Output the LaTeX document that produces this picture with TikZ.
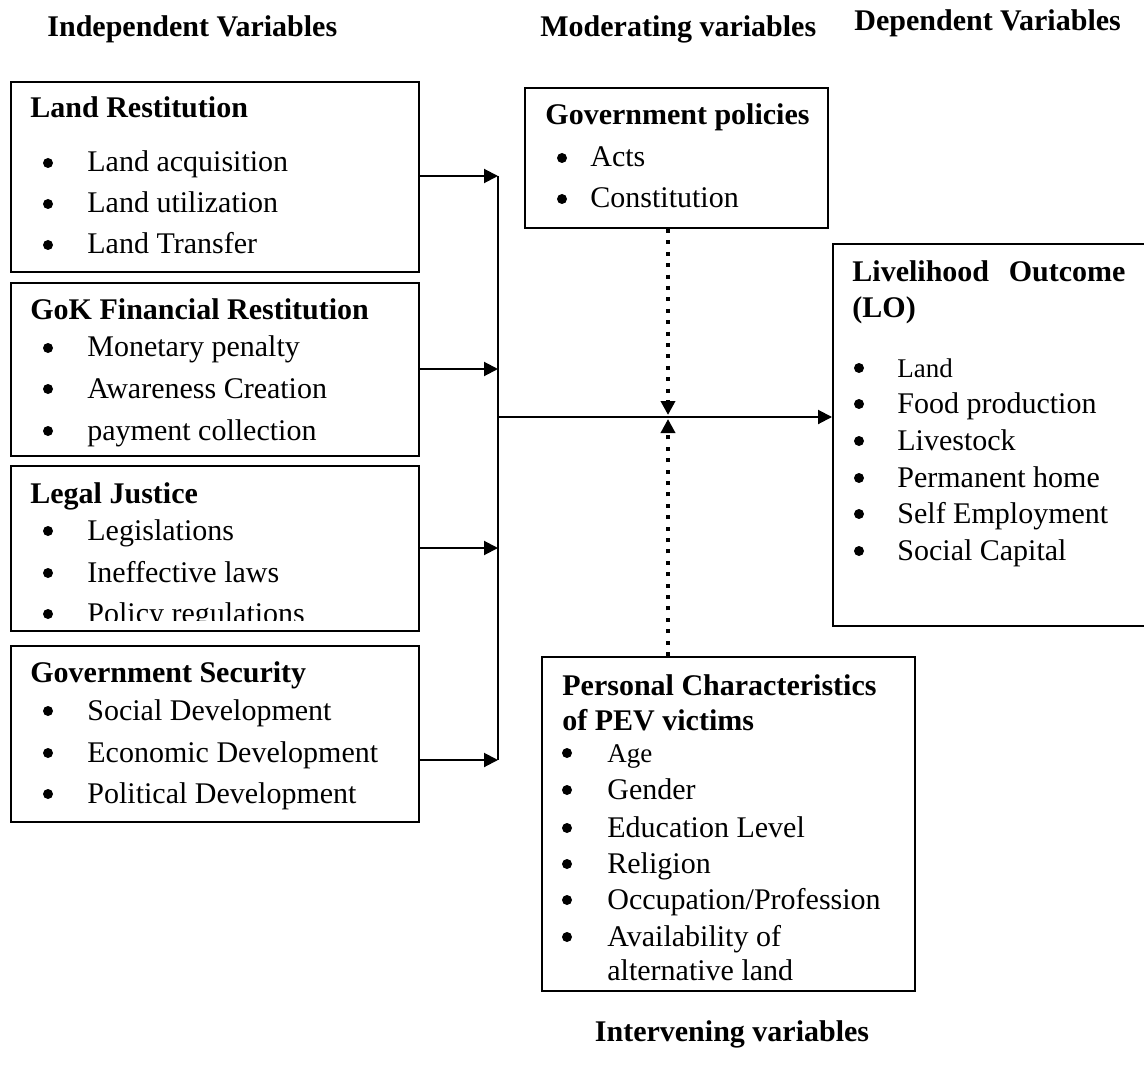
\documentclass[tikz,border=0pt]{standalone}
\usepackage{fontspec}
\setmainfont{Liberation Serif}
\usetikzlibrary{arrows.meta,fit}
\begin{document}
\begin{tikzpicture}[x=0.5pt,y=-0.5pt,
  box/.style={draw,line width=1pt,inner sep=0pt},
  txt/.style={anchor=base west,inner sep=0pt,font=\fontsize{15}{18}\selectfont},
  stxt/.style={anchor=base west,inner sep=0pt,font=\fontsize{13.5}{16}\selectfont},
  hd/.style={anchor=base west,inner sep=0pt,font=\fontsize{15}{18}\selectfont\bfseries},
  bul/.style={circle,fill,inner sep=0pt,minimum size=5pt,yshift=4.5pt},
  arr/.style={line width=1pt,-{Triangle[length=7pt,width=7pt]}},
  ln/.style={line width=1pt},
  dots/.style={line width=2pt,dash pattern=on 2pt off 3.7pt,-{Triangle[length=7pt,width=7pt]}}]
\useasboundingbox (0,0) rectangle (1144,1080);

% headings
\node[hd] (hind) at (47,37) {Independent Variables};
\node[hd] (hmod) at (540,37) {Moderating variables};
\node[hd] (hdep) at (854,31) {Dependent Variables};
\node[hd,anchor=base] (hint) at (732,1041) {Intervening variables};

% Box 1 Land Restitution
\node[box,fit={(11,82) (419,272)}] (lr) {};
\node[hd] (lrh) at (30,118) {Land Restitution};
\node[bul] (lrb1) at (48,172) {};
\node[txt] (lrt1) at (87,172) {Land acquisition};
\node[bul] (lrb2) at (48,213) {};
\node[txt] (lrt2) at (87,213) {Land utilization};
\node[bul] (lrb3) at (48,254) {};
\node[txt] (lrt3) at (87,254) {Land Transfer};

% Box 2 GoK
\node[box,fit={(11,283) (419,456)}] (gk) {};
\node[hd] (gkh) at (30,320) {GoK Financial Restitution};
\node[bul] (gkb1) at (48,357) {};
\node[txt] (gkt1) at (87,357) {Monetary penalty};
\node[bul] (gkb2) at (48,398) {};
\node[txt] (gkt2) at (87,398) {Awareness Creation};
\node[bul] (gkb3) at (48,440) {};
\node[txt] (gkt3) at (87,440) {payment collection};

% Box 3 Legal Justice
\begin{scope}
\clip (11,466) rectangle (419,620);
\node[hd] (ljh) at (30,503) {Legal Justice};
\node[bul] (ljb1) at (48,540) {};
\node[txt] (ljt1) at (87,540) {Legislations};
\node[bul] (ljb2) at (48,582) {};
\node[txt] (ljt2) at (87,582) {Ineffective laws};
\node[bul] (ljb3) at (48,623) {};
\node[txt] (ljt3) at (87,623) {Policy regulations};
\end{scope}
\node[box,fit={(11,466) (419,631)}] (lj) {};

% Box 4 Government Security
\node[box,fit={(11,646) (419,822)}] (gs) {};
\node[hd] (gsh) at (30,682) {Government Security};
\node[bul] (gsb1) at (48,720) {};
\node[txt] (gst1) at (87,720) {Social Development};
\node[bul] (gsb2) at (48,762) {};
\node[txt] (gst2) at (87,762) {Economic Development};
\node[bul] (gsb3) at (48,803) {};
\node[txt] (gst3) at (87,803) {Political Development};

% Government policies
\node[box,fit={(525,88) (828,228)}] (gp) {};
\node[hd] (gph) at (545,125) {Government policies};
\node[bul] (gpb1) at (562,167) {};
\node[txt] (gpt1) at (590,167) {Acts};
\node[bul] (gpb2) at (562,208) {};
\node[txt] (gpt2) at (590,208) {Constitution};

% Livelihood Outcome
\node[box,fit={(833,244) (1148,626)}] (lo) {};
\node[hd] (loh1) at (852,282) {\makebox[136.5pt][s]{Livelihood\hfill Outcome}};
\node[hd] (loh2) at (852,318) {(LO)};
\node[bul] (lob1) at (859,377) {};
\node[stxt] (lot1) at (897,377) {Land};
\node[bul] (lob2) at (859,413) {};
\node[txt] (lot2) at (897,413) {Food production};
\node[bul] (lob3) at (859,450) {};
\node[txt] (lot3) at (897,450) {Livestock};
\node[bul] (lob4) at (859,487) {};
\node[txt] (lot4) at (897,487) {Permanent home};
\node[bul] (lob5) at (859,523) {};
\node[txt] (lot5) at (897,523) {Self Employment};
\node[bul] (lob6) at (859,560) {};
\node[txt] (lot6) at (897,560) {Social Capital};

% Personal Characteristics
\node[box,fit={(542,657) (915,991)}] (pc) {};
\node[hd] (pch1) at (562,695) {Personal Characteristics};
\node[hd] (pch2) at (562,730) {of PEV victims};
\node[bul] (pcb1) at (567,762) {};
\node[stxt] (pct1) at (607,762) {Age};
\node[bul] (pcb2) at (567,799) {};
\node[txt] (pct2) at (607,799) {Gender};
\node[bul] (pcb3) at (567,837) {};
\node[txt] (pct3) at (607,837) {Education Level};
\node[bul] (pcb4) at (567,873) {};
\node[txt] (pct4) at (607,873) {Religion};
\node[bul] (pcb5) at (567,909) {};
\node[txt] (pct5) at (607,909) {Occupation/Profession};
\node[bul] (pcb6) at (567,946) {};
\node[txt] (pct6) at (607,946) {Availability of};
\node[txt] (pct7) at (607,980) {alternative land};

% connectors
\coordinate (j1) at (498,176);
\coordinate (j2) at (498,369);
\coordinate (j3) at (498,548);
\coordinate (j4) at (498,760);
\coordinate (jm) at (498,417);
\coordinate (cx) at (668,417);

\draw[arr] (lr.east |- j1) -- (j1);
\draw[arr] (gk.east |- j2) -- (j2);
\draw[arr] (lj.east |- j3) -- (j3);
\draw[arr] (gs.east |- j4) -- (j4);
\draw[ln] (j1) -- (j4);
\draw[arr] (jm) -- (lo.west |- jm);
\draw[dots] (gp.south -| cx) -- ([yshift=1pt]cx);
\draw[dots] (pc.north -| cx) -- ([yshift=-1pt]cx);
\end{tikzpicture}
\end{document}
